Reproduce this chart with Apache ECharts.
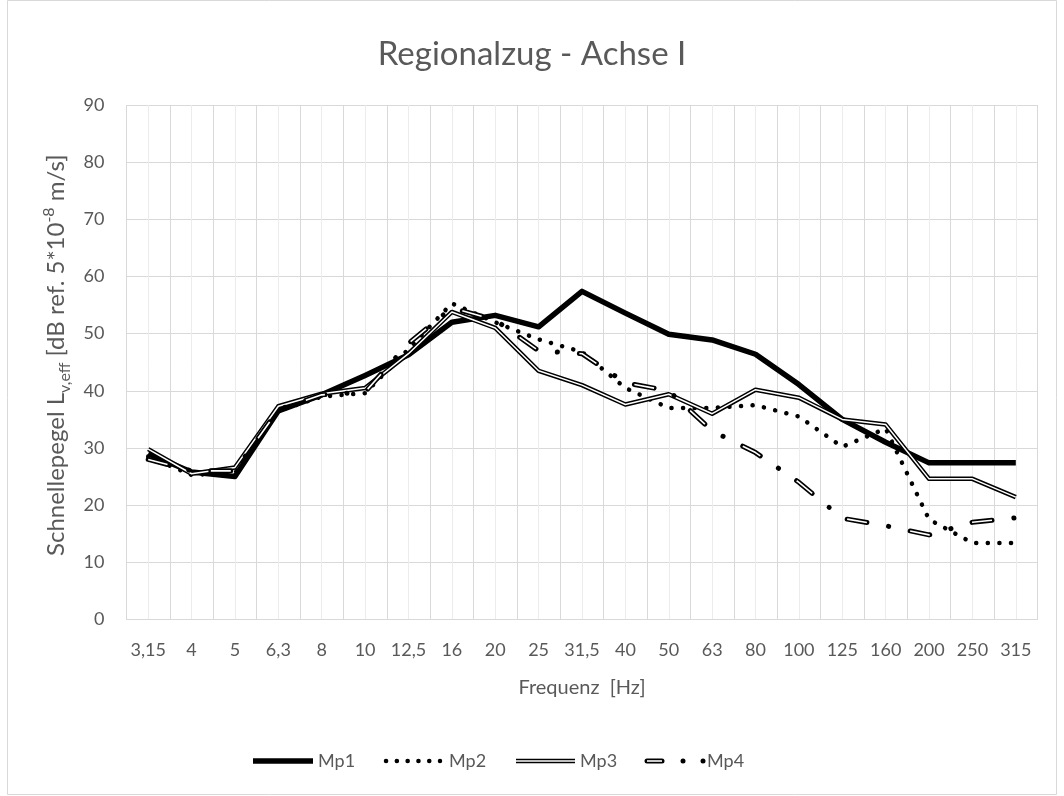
<!DOCTYPE html>
<html>
<head>
<meta charset="utf-8">
<script src="https://cdn.jsdelivr.net/npm/echarts@6/dist/echarts.min.js"></script>
<style>
  html, body { margin: 0; padding: 0; background: #fff; }
  #chart { width: 1064px; height: 796px; }
</style>
</head>
<body>
<div id="chart"></div>
<script>
// Terzband-Mittenfrequenzen [Hz]
var frequenzen = ['3,15', '4', '5', '6,3', '8', '10', '12,5', '16', '20', '25', '31,5', '40', '50', '63', '80', '100', '125', '160', '200', '250', '315']
// Schnellepegel je Messpunkt [dB]
var mp1 = [29, 25.8, 25, 36.5, 39.3, 42.7, 46.3, 52, 53.2, 51.2, 57.4, 53.6, 49.9, 48.9, 46.4, 41.1, 35, 31, 27.4, 27.4, 27.4]
var mp2 = [28.5, 25.3, 25.6, 36.5, 39, 39.6, 47.3, 55.3, 52, 49, 46.8, 40.5, 37, 37, 37.5, 35.5, 30.2, 33.4, 17.5, 13.4, 13.4]
var mp3 = [29.8, 25.5, 26.6, 37.3, 39.5, 40.5, 46.5, 53.8, 51, 43.5, 41, 37.6, 39.4, 36, 40.2, 38.8, 35, 34.1, 24.6, 24.6, 21.4]
var mp4 = [28, 26, 26, 36.7, 39.3, 39.8, 48.3, 54.5, 52.4, 47, 46.5, 41.4, 40, 33, 29.2, 24, 17.7, 16.4, 14.8, 17, 17.8]
var yTicks = [0, 10, 20, 30, 40, 50, 60, 70, 80, 90]

var grau = '#595959'
var gitter = '#d9d9d9'
var schrift = 'Lato, "Open Sans", sans-serif'

var chart = echarts.init(document.getElementById('chart'))

function linie(name, daten, style, silent) {
  return {
    name: name,
    type: 'line',
    data: daten,
    symbol: 'none',
    silent: !!silent,
    animation: false,
    lineStyle: Object.assign({ color: '#000', join: 'round' }, style)
  }
}

var legY = 761
var option = {
  backgroundColor: '#fff',
  title: {
    text: 'Regionalzug - Achse I',
    left: 'center',
    top: 33,
    textStyle: { fontFamily: schrift, fontSize: 33, fontWeight: 'normal', color: grau }
  },
  grid: { left: 126.5, right: 26.5, top: 105, bottom: 176.5, containLabel: false },
  xAxis: [{
    type: 'category',
    data: frequenzen,
    boundaryGap: true,
    z: 2,
    name: 'Frequenz  [Hz]',
    nameLocation: 'middle',
    nameGap: 58,
    nameTextStyle: { fontFamily: schrift, fontSize: 20, color: grau },
    axisLine: { show: true, lineStyle: { color: gitter, width: 1 } },
    axisTick: { show: false },
    axisLabel: { interval: 0, margin: 22, fontFamily: schrift, fontSize: 18, color: grau },
    splitLine: { show: true, lineStyle: { color: gitter, width: 1 } }
  }, {
    type: 'value',
    min: 0,
    max: frequenzen.length * 2,
    interval: 1,
    show: true,
    position: 'bottom',
    z: 1,
    axisLine: { show: false },
    axisTick: { show: false },
    axisLabel: { show: false },
    splitLine: { show: true, lineStyle: { color: '#ececec', width: 1 } }
  }],
  yAxis: {
    type: 'value',
    min: yTicks[0],
    max: yTicks[yTicks.length - 1],
    interval: 10,
    name: '{n|Schnellepegel L}{sub|v,eff}{n| [dB ref. 5*10}{sup|-8}{n| m/s]}',
    nameLocation: 'middle',
    nameGap: 50,
    nameTextStyle: {
      fontFamily: schrift,
      color: grau,
      padding: [0, 0, 0, 14],
      rich: {
        n: { fontFamily: schrift, fontSize: 24, color: grau, lineHeight: 32, verticalAlign: 'middle' },
        sub: { fontFamily: schrift, fontSize: 16, color: grau, lineHeight: 32, verticalAlign: 'bottom' },
        sup: { fontFamily: schrift, fontSize: 16, color: grau, lineHeight: 32, verticalAlign: 'top' }
      }
    },
    axisLine: { show: false },
    axisTick: { show: false },
    axisLabel: { margin: 22, fontFamily: schrift, fontSize: 18, color: grau },
    splitLine: { show: true, lineStyle: { color: gitter, width: 1 } }
  },
  series: [
    linie('Mp1', mp1, { width: 5.5 }),
    linie('Mp2', mp2, { width: 4.5, type: [0.1, 11.5], cap: 'round' }),
    linie('Mp3', mp3, { width: 4.5 }),
    linie('Mp3 innen', mp3, { width: 1.5, color: '#fff' }, true),
    linie('Mp4', mp4, { width: 5, type: [20, 22, 0.1, 22], cap: 'round' }),
    linie('Mp4 innen', mp4, { width: 1.6, type: [20, 44.1], color: '#fff' }, true)
  ],
  graphic: [
    { type: 'rect', shape: { x: 7.5, y: 0.5, width: 1049, height: 794 }, style: { fill: null, stroke: gitter, lineWidth: 1 }, silent: true },
    // Legende
    { type: 'line', shape: { x1: 253, y1: legY, x2: 313, y2: legY }, style: { stroke: '#000', lineWidth: 5.5 } },
    { type: 'text', x: 318, y: legY, style: { text: 'Mp1', font: '18px ' + schrift, fill: grau, verticalAlign: 'middle' } },
    { type: 'line', shape: { x1: 386, y1: legY, x2: 440, y2: legY }, style: { stroke: '#000', lineWidth: 4.5, lineDash: [0.1, 10.7], lineCap: 'round' } },
    { type: 'text', x: 449, y: legY, style: { text: 'Mp2', font: '18px ' + schrift, fill: grau, verticalAlign: 'middle' } },
    { type: 'line', shape: { x1: 516, y1: legY, x2: 575, y2: legY }, style: { stroke: '#000', lineWidth: 4.5 } },
    { type: 'line', shape: { x1: 516, y1: legY, x2: 575, y2: legY }, style: { stroke: '#fff', lineWidth: 1.5 } },
    { type: 'text', x: 580, y: legY, style: { text: 'Mp3', font: '18px ' + schrift, fill: grau, verticalAlign: 'middle' } },
    { type: 'line', shape: { x1: 647, y1: legY, x2: 662, y2: legY }, style: { stroke: '#000', lineWidth: 5, lineCap: 'round' } },
    { type: 'line', shape: { x1: 647, y1: legY, x2: 662, y2: legY }, style: { stroke: '#fff', lineWidth: 1.6 } },
    { type: 'circle', shape: { cx: 683, cy: legY, r: 2.5 }, style: { fill: '#000' } },
    { type: 'circle', shape: { cx: 703, cy: legY, r: 2.5 }, style: { fill: '#000' } },
    { type: 'text', x: 707, y: legY, style: { text: 'Mp4', font: '18px ' + schrift, fill: grau, verticalAlign: 'middle' } }
  ]
}

chart.setOption(option)
</script>
</body>
</html>
